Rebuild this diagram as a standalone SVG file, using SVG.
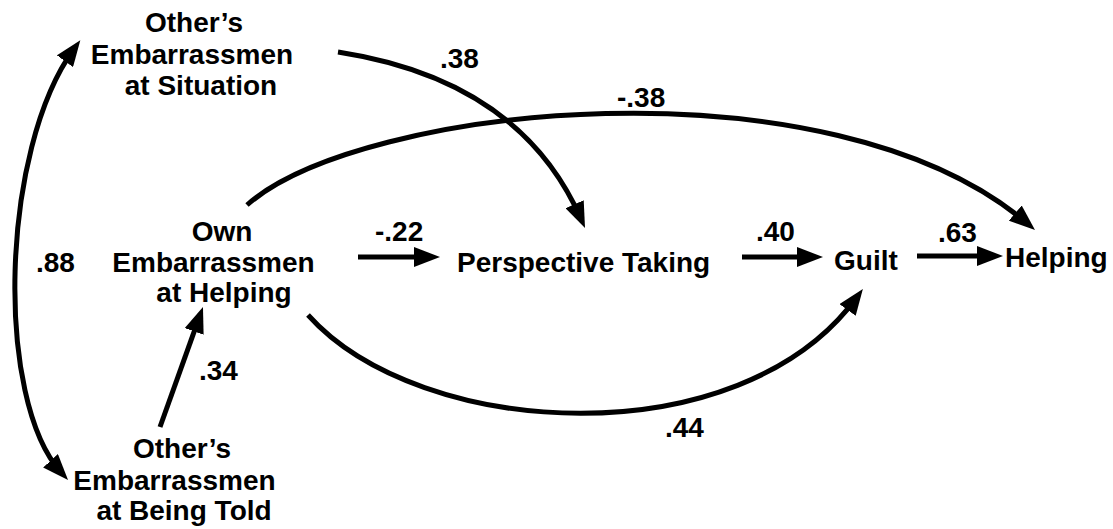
<svg xmlns="http://www.w3.org/2000/svg" width="1113" height="529" viewBox="0 0 1113 529">
<style>
text{font-family:"Liberation Sans",Arial,sans-serif;font-weight:bold;font-size:28px;fill:#000}
.c{text-anchor:middle}
.e{fill:none;stroke:#000;stroke-width:5}
</style>
<defs>
<marker id="ah" markerUnits="userSpaceOnUse" markerWidth="26" markerHeight="20" refX="16" refY="10" orient="auto-start-reverse" viewBox="0 0 26 20">
<path d="M0,0 L26,10 L0,20 z" fill="#000"/>
</marker>
</defs>
<rect width="1113" height="529" fill="#fff"/>
<g id="connectors">
<path class="e" d="M74.4,48.3 C0,150 -5,400 61.3,472.6" marker-start="url(#ah)" marker-end="url(#ah)"/>
<path class="e" d="M338,52 Q520,80 581,218.8" marker-end="url(#ah)"/>
<path class="e" d="M247,205 C360,105 830,55 1027.4,223.5" marker-end="url(#ah)"/>
<path class="e" d="M308,315 C420,440 740,458 857,297" marker-end="url(#ah)"/>
<path class="e" d="M358,257 L430,257" marker-end="url(#ah)"/>
<path class="e" d="M742,257 L813,257" marker-end="url(#ah)"/>
<path class="e" d="M917,256 L993,256" marker-end="url(#ah)"/>
<path class="e" d="M160,427 L199.6,316.4" marker-end="url(#ah)"/>
</g>
<g id="labels">
<text x="440" y="68">.38</text>
<text x="617" y="107">-.38</text>
<text x="375" y="241">-.22</text>
<text x="756" y="241">.40</text>
<text x="938" y="242">.63</text>
<text x="36" y="272">.88</text>
<text x="199" y="380">.34</text>
<text x="665" y="437">.44</text>
</g>
<g id="node-others-situation">
<text class="c" x="194" y="32">Other’s</text>
<text class="c" x="192" y="64">Embarrassmen</text>
<text class="c" x="201" y="95">at Situation</text>
</g>
<g id="node-own-helping">
<text class="c" x="222" y="241">Own</text>
<text class="c" x="213.5" y="272">Embarrassmen</text>
<text class="c" x="224" y="302">at Helping</text>
</g>
<g id="node-others-told">
<text class="c" x="182" y="458">Other’s</text>
<text class="c" x="174.5" y="490">Embarrassmen</text>
<text class="c" x="184" y="520">at Being Told</text>
</g>
<g id="node-perspective">
<text x="457" y="272">Perspective Taking</text>
</g>
<g id="node-guilt">
<text x="834" y="270">Guilt</text>
</g>
<g id="node-helping">
<text x="1005" y="267">Helping</text>
</g>
</svg>
